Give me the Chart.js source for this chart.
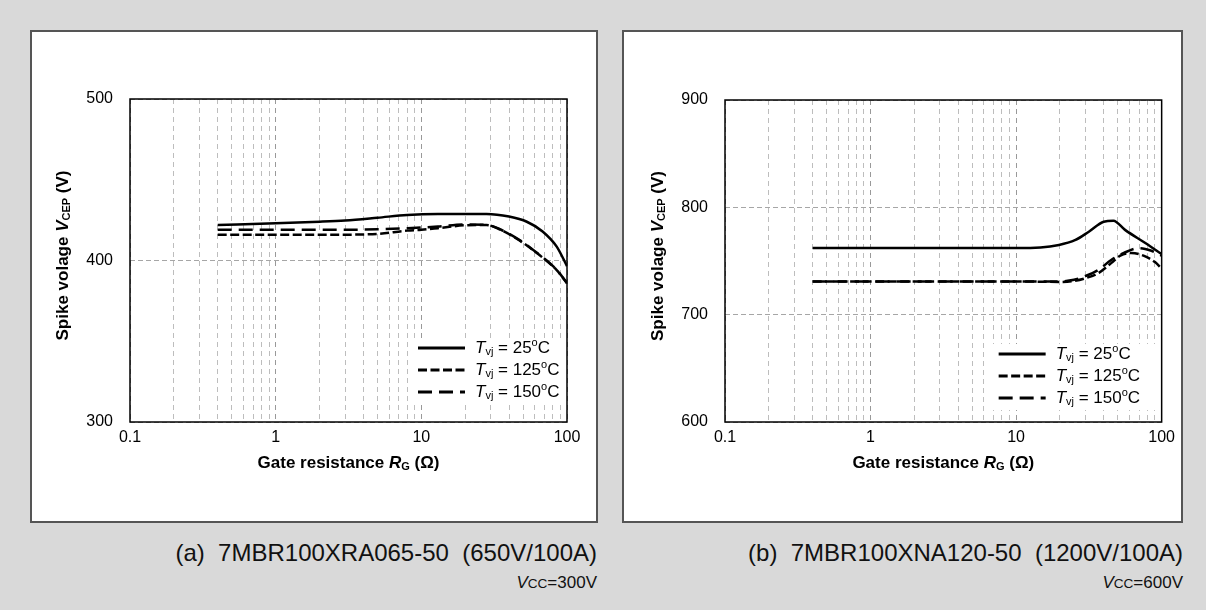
<!DOCTYPE html>
<html>
<head>
<meta charset="utf-8">
<script src="https://cdn.jsdelivr.net/npm/chart.js@4.4.1/dist/chart.umd.min.js"></script>
<style>
  body { margin: 0; width: 1206px; height: 610px; background: #d9d9d9; position: relative; overflow: hidden;
         font-family: "Liberation Sans", Arial, sans-serif; }
  .panel { position: absolute; top: 30px; height: 493px; background: #fff; border: 2px solid #555; box-sizing: border-box; }
  #pa { left: 30px; width: 568px; }
  #pb { left: 622px; width: 561px; }
  canvas { display: block; }
  .cap { position: absolute; font-size: 24px; white-space: pre; color: #111; text-align: right; line-height: 26px; }
  .cap2 { position: absolute; font-size: 17px; white-space: pre; color: #111; text-align: right; line-height: 24px; }
  .cc { font-size: 0.8em; }
</style>
</head>
<body>
<div class="panel" id="pa"><canvas id="chartA" width="564" height="489"></canvas></div>
<div class="panel" id="pb"><canvas id="chartB" width="557" height="489"></canvas></div>
<div class="cap" style="right:609px; top:540px;">(a)  7MBR100XRA065-50  (650V/100A)</div>
<div class="cap2" style="right:609px; top:571px;"><i>V</i><span class="cc">CC</span>=300V</div>
<div class="cap" style="right:23px; top:540px;">(b)  7MBR100XNA120-50  (1200V/100A)</div>
<div class="cap2" style="right:23px; top:571px;"><i>V</i><span class="cc">CC</span>=600V</div>
<script>
// x axis ticks (gate resistance, ohm)
const rgTicks = [0.1, 0.2, 0.3, 0.4, 0.5, 0.6, 0.7, 0.8, 0.9, 1, 2, 3, 4, 5, 6, 7, 8, 9, 10, 20, 30, 40, 50, 60, 70, 80, 90, 100];

// (a) 7MBR100XRA065-50, Vcc = 300V
const yTicksA = [300, 400, 500];
const rgA25 = [0.4, 1, 2, 3, 5, 8, 13, 28, 40, 53, 68, 85, 100];
const vA25 = [422, 423, 424, 424.8, 426.5, 428.2, 428.8, 428.8, 427.2, 424, 418, 408.6, 396.5];
const rgA125 = [0.4, 1, 3, 5, 8, 10, 13, 20, 28, 35, 47, 65, 85, 100];
const vA125 = [416, 416, 416, 416.5, 418.5, 419, 420, 421.8, 422, 419, 412.5, 403.2, 394, 386];
const rgA150 = [0.4, 1, 3, 5, 8, 13, 20, 28, 35, 47, 65, 85, 100];
const vA150 = [419, 419, 419, 419.3, 420, 421, 422.3, 422, 419.2, 412.8, 403.4, 394.2, 386];

// (b) 7MBR100XNA120-50, Vcc = 600V
const yTicksB = [600, 700, 800, 900];
const rgB25 = [0.4, 1, 5, 10.5, 19.7, 25.6, 31.6, 40, 46.6, 56, 77.7, 100];
const vB25 = [762, 762, 762, 762, 765, 769.6, 777.3, 786.6, 787.5, 779, 766.5, 756.5];
const rgB125 = [0.4, 10, 20, 25, 30, 37, 45, 52, 62, 75, 90, 100];
const vB125 = [731, 731, 730.5, 731.5, 734, 739, 748, 755, 757.5, 755, 749, 743];
const rgB150 = [0.4, 10, 20, 25, 30, 37, 45, 55, 70, 85, 100];
const vB150 = [731, 731, 731, 732.5, 736, 742, 751, 757.5, 762, 759.5, 755];

const legendTemps = ['25', '125', '150'];
const lineDashes = [[], [9, 3.5], [14, 7]];

const FONT = '"Liberation Sans", Arial, sans-serif';
const isDecade = v => Math.abs(Math.log10(v) - Math.round(Math.log10(v))) < 1e-6;
const pts = (xs, ys) => xs.map((x, i) => ({ x: x, y: ys[i] }));

// draw text made of several runs (italic / sub / sup)
function rich(ctx, parts, x, y, align) {
  let w = 0;
  parts.forEach(p => { ctx.font = p.f; w += ctx.measureText(p.t).width; });
  let cx = align === 'center' ? x - w / 2 : x;
  ctx.textAlign = 'left';
  ctx.textBaseline = 'middle';
  parts.forEach(p => {
    ctx.font = p.f;
    ctx.fillText(p.t, cx, y + (p.dy || 0));
    cx += ctx.measureText(p.t).width;
  });
}

const decor = {
  id: 'decor',
  afterDatasetsDraw(chart, args, o) {
    const { ctx, chartArea: a } = chart;
    ctx.save();

    // legend box
    ctx.fillStyle = '#fff';
    ctx.fillRect(a.right - o.legX - 8, a.bottom - o.legY - 10, o.legX + 4, 66);
    ctx.fillStyle = '#000';
    legendTemps.forEach((t, i) => {
      const y = a.bottom - o.legY + i * 22;
      ctx.beginPath();
      ctx.setLineDash(lineDashes[i]);
      ctx.lineWidth = 3;
      ctx.strokeStyle = '#000';
      ctx.moveTo(a.right - o.legX, y);
      ctx.lineTo(a.right - o.legX + 47, y);
      ctx.stroke();
      ctx.setLineDash([]);
      rich(ctx, [
        { t: 'T', f: 'italic 17px ' + FONT },
        { t: 'vj', f: '11px ' + FONT, dy: 4 },
        { t: ' = ' + t, f: '17px ' + FONT },
        { t: 'o', f: '11px ' + FONT, dy: -5 },
        { t: 'C', f: '17px ' + FONT }
      ], a.right - o.legX + 57, y, 'left');
    });

    // y title
    ctx.save();
    ctx.translate(a.left - 67, (a.top + a.bottom) / 2 - 5);
    ctx.rotate(-Math.PI / 2);
    rich(ctx, [
      { t: 'Spike volage ', f: 'bold 17px ' + FONT },
      { t: 'V', f: 'italic bold 17px ' + FONT },
      { t: 'CEP', f: 'bold 11px ' + FONT, dy: 4 },
      { t: ' (V)', f: 'bold 17px ' + FONT }
    ], 0, 0, 'center');
    ctx.restore();

    // x title
    rich(ctx, [
      { t: 'Gate resistance ', f: 'bold 17px ' + FONT },
      { t: 'R', f: 'italic bold 17px ' + FONT },
      { t: 'G', f: 'bold 11px ' + FONT, dy: 4 },
      { t: ' (\u03A9)', f: 'bold 17px ' + FONT }
    ], (a.left + a.right) / 2, a.bottom + 41, 'center');

    // plot frame
    ctx.lineWidth = 1.5;
    ctx.strokeStyle = '#000';
    ctx.strokeRect(a.left, a.top, a.right - a.left, a.bottom - a.top);
    ctx.restore();
  }
};

function makeChart(id, series, yTicks, box) {
  const datasets = series.map((s, i) => ({
    data: pts(s[0], s[1]),
    borderColor: '#000',
    borderWidth: 2.5,
    borderDash: lineDashes[i],
    pointRadius: 0,
    fill: false,
    cubicInterpolationMode: 'monotone'
  }));
  return new Chart(document.getElementById(id), {
    type: 'line',
    data: { datasets: datasets },
    plugins: [decor],
    options: {
      responsive: false,
      animation: false,
      layout: { padding: { top: box.top, right: box.right, left: 0, bottom: 0 } },
      plugins: {
        legend: { display: false },
        tooltip: { enabled: false },
        decor: { legX: box.legX, legY: box.legY }
      },
      scales: {
        x: {
          type: 'logarithmic',
          min: 0.1,
          max: 100,
          afterBuildTicks: sc => { sc.ticks = rgTicks.map(v => ({ value: v })); },
          afterFit: sc => { sc.height = box.xh; },
          ticks: {
            autoSkip: false,
            maxRotation: 0,
            padding: 6,
            color: '#000',
            font: { family: FONT, size: 16 },
            callback: v => isDecade(v) ? String(v) : ''
          },
          grid: {
            drawTicks: false,
            lineWidth: 1,
            color: c => (c.tick && isDecade(c.tick.value)) ? '#999999' : '#bdbdbd'
          },
          border: { display: false, dash: [5, 4] }
        },
        y: {
          min: yTicks[0],
          max: yTicks[yTicks.length - 1],
          afterBuildTicks: sc => { sc.ticks = yTicks.map(v => ({ value: v })); },
          afterFit: sc => { sc.width = box.left; },
          ticks: {
            padding: 17,
            color: '#000',
            font: { family: FONT, size: 16 }
          },
          grid: { drawTicks: false, lineWidth: 1, color: '#a6a6a6' },
          border: { display: false, dash: [5, 3] }
        }
      }
    }
  });
}

makeChart('chartA', [[rgA25, vA25], [rgA125, vA125], [rgA150, vA150]], yTicksA,
  { top: 67, right: 29, left: 98, xh: 99, legX: 149, legY: 74 });
makeChart('chartB', [[rgB25, vB25], [rgB125, vB125], [rgB150, vB150]], yTicksB,
  { top: 68, right: 18, left: 101, xh: 99, legX: 163, legY: 68 });
</script>
</body>
</html>
